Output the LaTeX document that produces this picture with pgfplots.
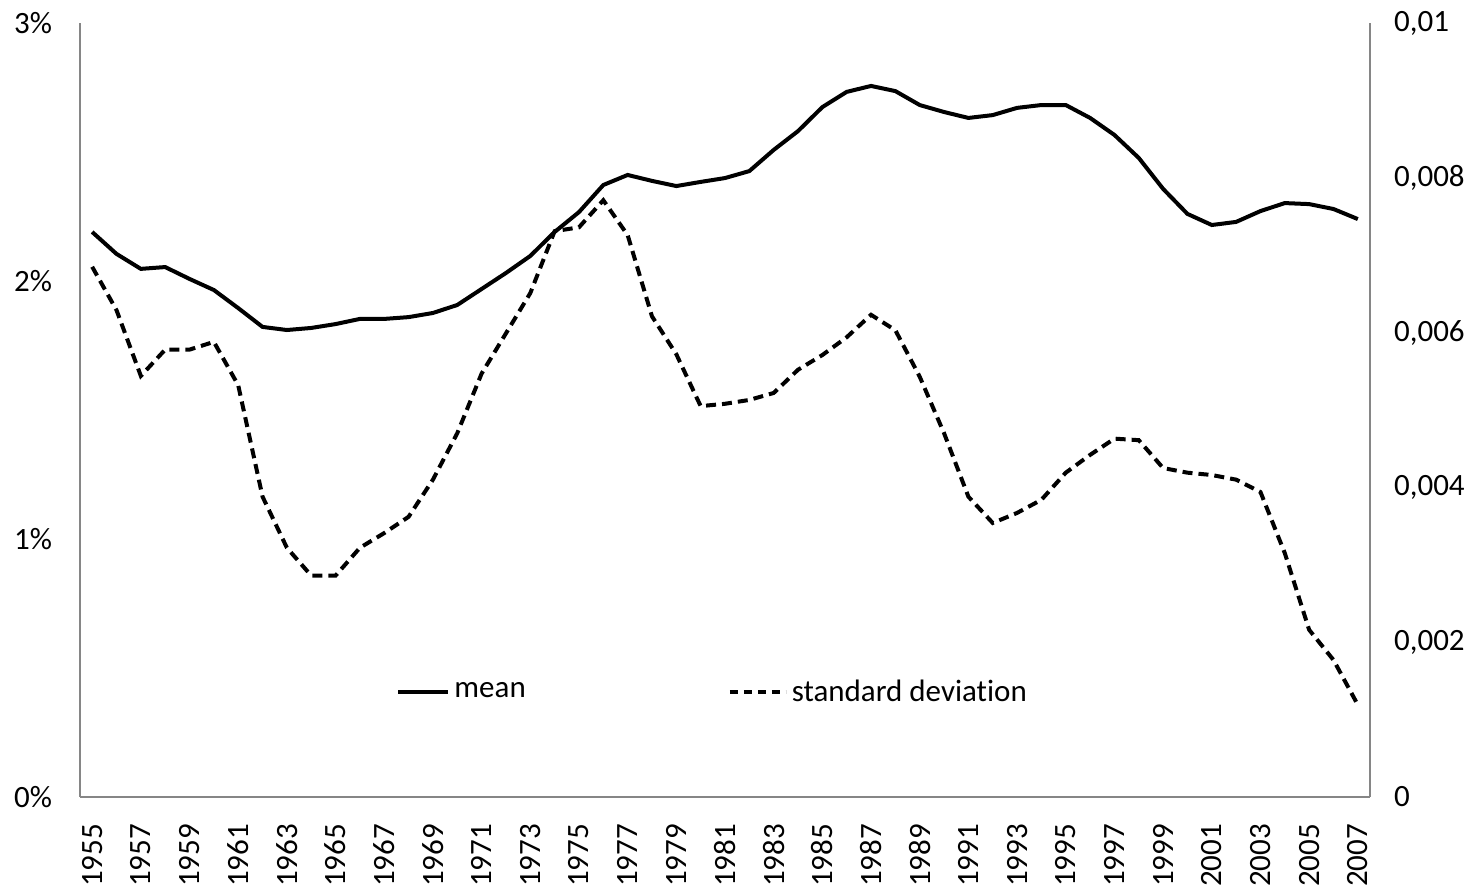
\documentclass[border=0pt]{standalone}
\usepackage{fontspec}
\setmainfont{Carlito}[Ligatures=NoCommon]
\usepackage{pgfplots}
\pgfplotsset{compat=1.18}
\usepackage{pgfplotstable}
\definecolor{axgray}{RGB}{134,134,134}

% year, mean (%), standard deviation
\pgfplotstableread{
year mean sd
1955 2.190 0.00685
1956 2.105 0.00629
1957 2.047 0.00544
1958 2.054 0.00578
1959 2.008 0.00578
1960 1.965 0.00588
1961 1.895 0.00532
1962 1.822 0.00388
1963 1.810 0.00322
1964 1.818 0.00286
1965 1.833 0.00286
1966 1.853 0.00322
1967 1.853 0.00341
1968 1.860 0.00362
1969 1.876 0.00410
1970 1.907 0.00470
1971 1.969 0.00547
1972 2.031 0.00599
1973 2.097 0.00651
1974 2.190 0.00731
1975 2.267 0.00736
1976 2.372 0.00771
1977 2.411 0.00726
1978 2.388 0.00621
1979 2.368 0.00572
1980 2.384 0.00505
1981 2.399 0.00508
1982 2.426 0.00513
1983 2.508 0.00522
1984 2.581 0.00552
1985 2.674 0.00571
1986 2.733 0.00594
1987 2.756 0.00623
1988 2.736 0.00603
1989 2.682 0.00543
1990 2.655 0.00470
1991 2.632 0.00388
1992 2.643 0.00354
1993 2.671 0.00367
1994 2.682 0.00384
1995 2.682 0.00419
1996 2.632 0.00442
1997 2.566 0.00463
1998 2.477 0.00461
1999 2.357 0.00425
2000 2.260 0.00419
2001 2.217 0.00416
2002 2.229 0.00410
2003 2.271 0.00394
2004 2.302 0.00315
2005 2.298 0.00216
2006 2.279 0.00177
2007 2.240 0.00119
}\datatable

\tikzset{
  meanline/.style={black, line width=2pt},
  sdline/.style={black, line width=2pt, dash pattern=on 5pt off 3pt},
}
\pgfplotsset{
  base/.style={
    width=645pt, height=387pt, scale only axis,
    xmin=1954.5, xmax=2007.5,
    tick style={draw=none},
    axis line style={axgray, line width=1pt},
    every tick label/.append style={font=\fontsize{15.5}{18}\selectfont},
    /pgf/number format/assume math mode=true,
    /pgf/number format/set thousands separator={},
    scaled y ticks=false,
  },
  meanlegend/.style={legend image code/.code={\draw[black, line width=2pt] (0pt,0pt) -- (25pt,0pt);}},
  sdlegend/.style={legend image code/.code={\draw[black, line width=2pt, dash pattern=on 4pt off 3pt] (0pt,0pt) -- (28pt,0pt);}},
}

\begin{document}
\begin{tikzpicture}
\begin{axis}[
    base,
    axis x line*=bottom,
    axis y line*=left,
    ymin=0, ymax=3,
    ytick={0,1,2,3},
    yticklabel={\pgfmathprintnumber{\tick}\%},
    yticklabel style={xshift=-10.5pt},
    xtick={1955,1957,...,2007},
    % rotated frame: local x points up on the page
    xticklabel style={rotate=90, anchor=east, xshift=-10pt},
    legend columns=2,
    legend style={draw=none, fill=none, at={(0.245,0.1357)}, anchor=west,
      font=\fontsize{15.5}{18}\selectfont,
      /tikz/every even column/.append style={column sep=99pt},
      inner xsep=0pt},
    legend cell align=left,
]
\addplot[meanline, meanlegend] table[x=year, y=mean] {\datatable};
\addlegendentry{mean}
\addlegendimage{sdlegend}
\addlegendentry{standard deviation}
\end{axis}
\begin{axis}[
    base,
    axis x line=none,
    axis y line*=right,
    ymin=0, ymax=0.01,
    ytick={0,0.002,0.004,0.006,0.008,0.01},
    yticklabels={0,{0,002},{0,004},{0,006},{0,008},{0,01}},
    yticklabel style={xshift=8.5pt},
]
\addplot[sdline] table[x=year, y=sd] {\datatable};
\end{axis}
\path ([xshift=-40pt,yshift=-47pt]current axis.south west) rectangle ([xshift=54.5pt,yshift=11.5pt]current axis.north east);
\end{tikzpicture}
\end{document}
